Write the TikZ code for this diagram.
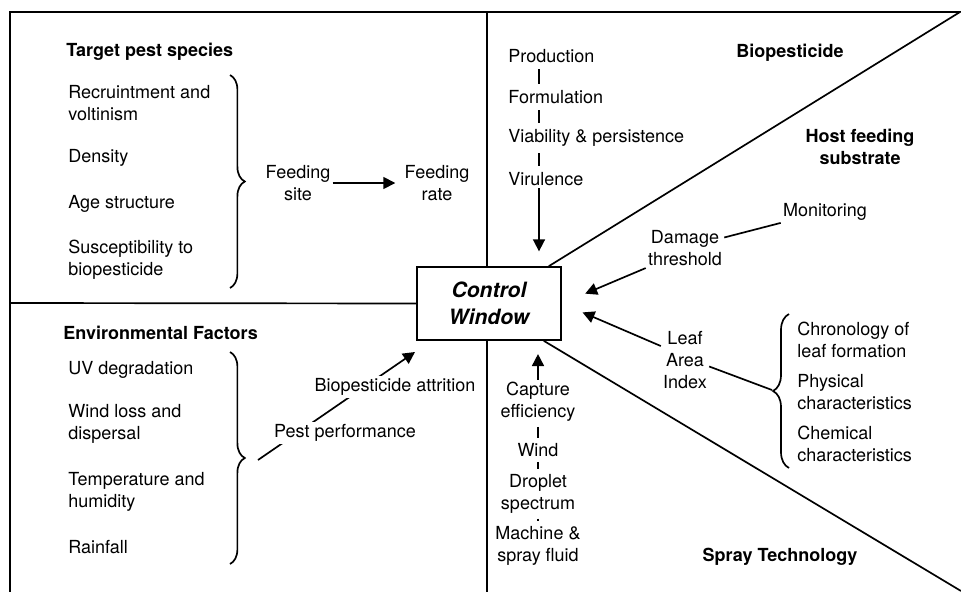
\documentclass[tikz,border=0pt]{standalone}
\usepackage{fontspec}
\setmainfont{TeX Gyre Heros}
\usetikzlibrary{arrows.meta,positioning,calc,decorations.pathreplacing}

\begin{document}
\begin{tikzpicture}[x=0.025cm, y=-0.025cm,
    txt/.style={font=\fontsize{12.8}{15.6}\selectfont, inner sep=1.5pt, align=left},
    ctr/.style={txt, align=center},
    ttl/.style={txt, font=\fontsize{12.8}{15.6}\selectfont\bfseries},
    lbl/.style={txt, fill=white},
    winbox/.style={draw, line width=1.2pt, minimum width=3.6cm, minimum height=1.825cm,
                   align=center, font=\fontsize{15}{19}\selectfont\bfseries\itshape},
    lnk/.style={line width=1.2pt},
    arr/.style={lnk, -{Triangle[length=8.5pt,width=8.5pt]}},
    brc/.style={lnk, decorate, decoration={brace, amplitude=0.37cm}}
  ]
    \useasboundingbox (0,0) rectangle (961,592);

    % frame and the window
    \node[winbox] (win) at (489,303.5) {Control\\Window};
    \coordinate (tl) at (10,12);
    \coordinate (tr) at (960,12);
    \coordinate (bl) at (10,592);
    \coordinate (br) at (961,591);
    \coordinate (tm) at (487,12);
    \coordinate (bm) at (487,592);
    \coordinate (ml) at (10,303);
    \draw[lnk] (bl) -- (tl) -- (tr) -- ($(win.north east)+(-13,0)$);
    \draw[lnk] (tm) -- (tm |- win.north);
    \draw[lnk] (ml) -- (win.west);
    \draw[lnk] (bm) -- (bm |- win.south);
    \draw[lnk] ($(win.south east)+(-18,0)$) -- (br);

    % target pest species
    \node[ttl, anchor=west] (tps)  at (64,52)  {Target pest species};
    \node[txt, anchor=west] (recr) at (66,103) {Recruintment and\\voltinism};
    \node[txt, anchor=west] (dens) at (66,158) {Density};
    \node[txt, anchor=west] (age)  at (66,204) {Age structure};
    \node[txt, anchor=west] (susc) at (66,260) {Susceptibility to\\biopesticide};
    \draw[brc] (230,75) -- (230,288);
    \node[ctr] (fsite) at (298,183) {Feeding\\site};
    \node[ctr] (frate) at (437,183) {Feeding\\rate};
    \draw[arr, shorten >=5pt] (fsite) -- (frate);

    % environmental factors
    \node[ttl, anchor=west] (envf) at (61,333) {Environmental Factors};
    \node[txt, anchor=west] (uv)   at (66,370) {UV degradation};
    \node[txt, anchor=west] (wind) at (66,424) {Wind loss and\\dispersal};
    \node[txt, anchor=west] (temp) at (66,492) {Temperature and\\humidity};
    \node[txt, anchor=west] (rain) at (66,547) {Rainfall};
    \draw[brc] (230,352) -- (230,564);
    \coordinate (envtip) at (258,460);
    \coordinate (envend) at (415,352);
    \draw[arr] (envtip) -- (envend);
    \node[lbl] (pestp) at (345,433) {Pest performance};
    \node[lbl] (attr)  at (395,387) {Biopesticide attrition};

    % biopesticide
    \node[ttl] (biop) at (790,53) {Biopesticide};
    \coordinate (bcol) at (539,0);
    \node[txt, anchor=west] (prod) at (506,56)  {Production};
    \node[txt, anchor=west] (form) at (506,97)  {Formulation};
    \node[txt, anchor=west] (viab) at (506,138) {Viability \& persistence};
    \node[txt, anchor=west] (viru) at (506,179) {Virulence};
    \draw[lnk, shorten <=3pt, shorten >=3pt] (prod.south -| bcol) -- (form.north -| bcol);
    \draw[lnk, shorten <=3pt, shorten >=3pt] (form.south -| bcol) -- (viab.north -| bcol);
    \draw[lnk, shorten <=3pt, shorten >=3pt] (viab.south -| bcol) -- (viru.north -| bcol);
    \draw[arr, shorten >=0.37cm] (viru.south -| bcol) -- (bcol |- win.north);

    % host feeding substrate
    \node[ttl, align=center] (host) at (860,147) {Host feeding\\substrate};
    \node[txt] (mon) at (825,212) {Monitoring};
    \node[ctr] (dmg) at (685,248) {Damage\\threshold};
    \node[ctr] (lai) at (685,360) {Leaf\\Area\\Index};
    \draw[lnk] (mon.south west) -- (dmg.15);
    \draw[arr, shorten >=18pt] (dmg.south west) -- (win.east);
    \draw[arr, shorten >=16pt] (lai.150) -- (win.east);
    \coordinate (lbr) at (772,390);
    \draw[lnk] (lai.-15) -- (lbr);
    \draw[brc, decoration={amplitude=0.4cm}] (789,468) -- (789,314);
    \node[txt, anchor=west] (chron) at (795,340) {Chronology of\\leaf formation};
    \node[txt, anchor=west] (phys)  at (795,392) {Physical\\characteristics};
    \node[txt, anchor=west] (chem)  at (795,444) {Chemical\\characteristics};

    % spray technology
    \node[ttl] (spray) at (780,557) {Spray Technology};
    \node[ctr] (capt)  at (538,402) {Capture\\efficiency};
    \node[ctr] (windb) at (538,450) {Wind};
    \node[ctr] (drop)  at (538,494) {Droplet\\spectrum};
    \node[ctr] (mach)  at (538,546) {Machine \&\\spray fluid};
    \draw[arr, shorten >=0.33cm] (capt.north) -- (capt.north |- win.south);
    \draw[lnk, shorten <=2pt, shorten >=2pt] (capt) -- (windb);
    \draw[lnk, shorten <=2pt, shorten >=2pt] (windb) -- (drop);
    \draw[lnk, shorten <=2pt, shorten >=2pt] (drop) -- (mach);
\end{tikzpicture}
\end{document}
